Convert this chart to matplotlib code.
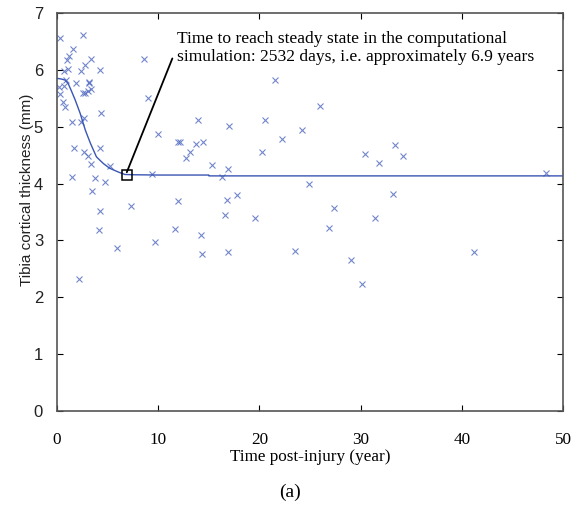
import matplotlib.pyplot as plt
from matplotlib.font_manager import FontProperties

# measured patients: time post-injury (year), tibia cortical thickness (mm)
t_obs = [0.3, 2.6, 1.55, 1.22, 1.02, 3.36, 2.74, 0.69, 1.12, 2.34, 4.25, 8.63,
         0.89, 1.88, 3.16, 3.2, 0.2, 0.69, 3.36, 3.03, 2.54, 2.8, 0.3, 0.56,
         0.79, 9.02, 4.35, 2.64, 1.45, 2.4, 9.95, 12.0, 1.71, 4.25, 2.7, 3.06,
         3.33, 5.24, 1.48, 3.79, 4.71, 9.42, 3.43, 4.25, 7.35, 12.0, 4.15, 11.7,
         5.96, 9.65, 2.17,
         21.5, 26.0, 13.93, 20.6, 17.0, 24.2, 12.2, 13.7, 14.4, 22.2, 13.1,
         12.75, 20.3, 30.4, 15.3, 16.9, 16.3, 24.9, 16.8, 17.8, 16.6, 19.6,
         27.4, 14.2, 26.9, 14.3, 16.9, 23.5, 29.1, 30.1,
         33.4, 31.8, 34.2, 48.3, 33.2, 31.4, 41.2]
y_obs = [6.56, 6.62, 6.36, 6.24, 6.17, 6.19, 6.09, 5.98, 6.01, 5.98, 6.0, 6.19,
         5.83, 5.76, 5.79, 5.77, 5.70, 5.71, 5.67, 5.63, 5.60, 5.60, 5.58, 5.44,
         5.35, 5.51, 5.24, 5.16, 5.08, 5.08, 4.88, 4.73, 4.62, 4.62, 4.55, 4.49,
         4.34, 4.31, 4.12, 4.10, 4.03, 4.16, 3.87, 3.52, 3.61, 3.70, 3.18, 3.20,
         2.87, 2.98, 2.32,
         5.83, 5.37, 5.12, 5.12, 5.02, 4.94, 4.73, 4.69, 4.73, 4.79, 4.55,
         4.45, 4.55, 4.52, 4.32, 4.26, 4.12, 4.0, 3.71, 3.80, 3.44, 3.39,
         3.57, 3.10, 3.22, 2.77, 2.79, 2.81, 2.65, 2.24,
         4.67, 4.36, 4.49, 4.19, 3.81, 3.40, 2.79]

# computational simulation
t_sim = [0.0, 0.4, 0.8, 1.1, 1.4, 1.8, 2.3, 2.8, 3.3, 3.9, 4.3, 4.6, 5.2, 6.1,
         6.7, 7.5, 10.0, 15.0, 15.01, 20.0, 30.0, 40.0, 50.0]
y_sim = [5.85, 5.84, 5.82, 5.76, 5.64, 5.47, 5.23, 4.94, 4.71, 4.47, 4.40, 4.35,
         4.27, 4.20, 4.16, 4.155, 4.15, 4.15, 4.135, 4.135, 4.135, 4.135, 4.135]

steady_t = 6.9
steady_y = 4.15

xticks = [0, 10, 20, 30, 40, 50]
yticks = [0, 1, 2, 3, 4, 5, 6, 7]

serif = FontProperties(family='Liberation Serif', size=12.3)
sans_ticks = FontProperties(family='Liberation Sans', size=12)
sans_label = FontProperties(family='Liberation Sans', size=11)

fig = plt.figure(figsize=(5.75, 5.13), dpi=100)
ax = fig.add_axes([0.0991, 0.1988, 0.8800, 0.7759])

ax.plot(t_obs, y_obs, 'x', color='#5068c0', markersize=5, markeredgewidth=0.8, alpha=0.8)
ax.plot(t_sim, y_sim, '-', color='#3a55b4', linewidth=1.0)
ax.plot([steady_t], [steady_y], 's', markersize=7, markerfacecolor='none',
        markeredgecolor='black', markeredgewidth=1.1)

# leader line from the steady-state marker to the note
ax.annotate('', xy=(steady_t, steady_y + 0.05), xytext=(11.4, 6.2),
            arrowprops=dict(arrowstyle='-', color='black', lw=1.3,
                            shrinkA=0, shrinkB=0))
ax.text(11.85, 6.38,
        'Time to reach steady state in the computational\n'
        'simulation: 2532 days, i.e. approximately 6.9 years',
        family='Liberation Serif', fontsize=12.6, ha='left', va='center',
        linespacing=1.15)

ax.set_xlim(0, 50)
ax.set_ylim(0, 7)
ax.set_xticks(xticks)
ax.set_yticks(yticks)
ax.set_xticklabels([str(v) for v in xticks], fontproperties=serif)
ax.set_yticklabels([str(v) for v in yticks], fontproperties=sans_ticks, color='#222222')
ax.tick_params(direction='in', top=True, right=True, length=4, width=0.8)
ax.tick_params(axis='x', pad=15)
ax.tick_params(axis='y', pad=10)
for s in ax.spines.values():
    s.set_color('#555555')
    s.set_linewidth(1.2)

ax.set_xlabel('Time post-injury (year)', fontproperties=serif, labelpad=1)
ax.set_ylabel('Tibia cortical thickness (mm)', fontproperties=sans_label, color='#222222')
ax.yaxis.set_label_coords(-0.045, 0.555)

fig.text(0.5035, 0.041, '(a)', family='Liberation Serif', fontsize=14, ha='center', va='center')

fig.savefig('out.png', dpi=100)
